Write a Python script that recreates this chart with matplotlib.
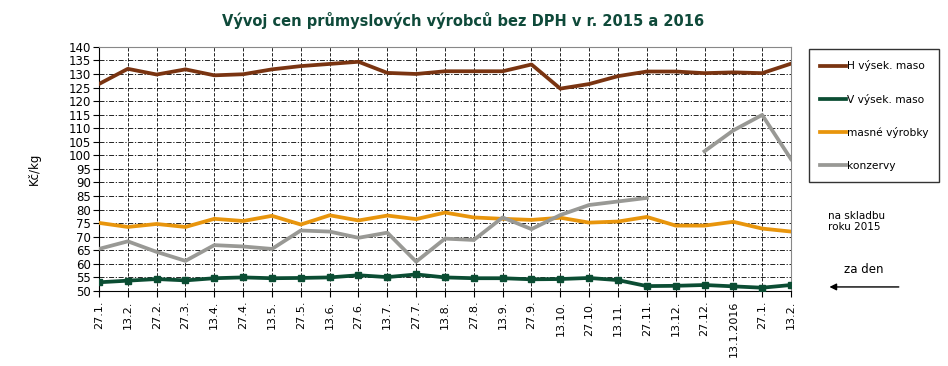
import numpy as np
import matplotlib
matplotlib.use('Agg')
import matplotlib.pyplot as plt

# category labels (dates of price survey)
dates = ['27.1.', '13.2.', '27.2.', '27.3.', '13.4.', '27.4.', '13.5.', '27.5.',
         '13.6.', '27.6.', '13.7.', '27.7.', '13.8.', '27.8.', '13.9.', '27.9.',
         '13.10.', '27.10.', '13.11.', '27.11.', '13.12.', '27.12.', '13.1.2016',
         '27.1.', '13.2.']

h_maso = [126.3, 131.9, 129.8, 131.7, 129.5, 129.9, 131.7, 132.9, 133.7, 134.5,
          130.4, 130.0, 131.0, 131.0, 131.0, 133.5, 124.6, 126.3, 129.2, 130.9,
          130.9, 130.3, 130.6, 130.3, 133.8]
v_maso = [53.2, 53.8, 54.4, 53.9, 54.7, 55.0, 54.7, 54.8, 55.0, 55.8,
          55.1, 56.1, 55.0, 54.7, 54.7, 54.3, 54.4, 54.8, 54.0, 51.8,
          51.9, 52.2, 51.7, 51.2, 52.2]
masne = [75.1, 73.6, 74.7, 73.6, 76.6, 75.8, 77.7, 74.5, 77.9, 76.0,
         77.8, 76.5, 78.9, 77.1, 76.6, 76.2, 77.0, 75.2, 75.6, 77.3,
         74.1, 74.1, 75.5, 73.0, 71.9]
konzervy = [65.5, 68.3, 64.4, 61.1, 66.9, 66.4, 65.5, 72.3, 71.9, 69.6,
            71.5, 60.8, 69.3, 68.8, 77.1, 72.8, 78.0, 81.7, 83.0, 84.3,
            None, 101.5, 109.2, 114.9, 98.6]

series_names = ['H výsek. maso', 'V výsek. maso', 'masné výrobky', 'konzervy']
colors = ['#7a3411', '#0b4d33', '#e8950c', '#999995']

x = np.arange(len(dates))
kon = np.array([np.nan if v is None else v for v in konzervy], dtype=float)

fig = plt.figure(figsize=(9.48, 3.66), dpi=100)
ax = fig.add_axes([0.1044, 0.205, 0.7300, 0.667])

ax.plot(x, h_maso, color=colors[0], lw=2.7, label=series_names[0], zorder=3)
ax.plot(x, v_maso, color=colors[1], lw=2.7, marker='s', ms=5, label=series_names[1], zorder=3)
ax.plot(x, masne, color=colors[2], lw=2.7, label=series_names[2], zorder=3)
ax.plot(x, kon, color=colors[3], lw=2.7, label=series_names[3], zorder=3)

ax.set_xlim(0, len(dates) - 1)
ax.set_ylim(50, 140)
ax.set_yticks(np.arange(50, 141, 5))
ax.set_xticks(x)
ax.set_xticklabels(dates, rotation=90, fontsize=8)
ax.tick_params(axis='y', labelsize=8.5, length=4, pad=2)
ax.tick_params(axis='x', length=4, pad=3)

ax.yaxis.grid(True, color='black', lw=0.6, linestyle=(0, (6, 2, 1.5, 2)))
ax.xaxis.grid(True, color='black', lw=0.6, linestyle=(0, (4, 2)))
ax.set_axisbelow(True)

for s in ['top', 'right']:
    ax.spines[s].set_color('#888888')
for s in ['left', 'bottom']:
    ax.spines[s].set_color('black')

ax.set_ylabel('Kč/kg', fontsize=8.5, labelpad=20)

fig.text(0.488, 0.945, 'Vývoj cen průmyslových výrobců bez DPH v r. 2015 a 2016',
         ha='center', va='center', fontsize=10.5, fontweight='bold', color='#0f4a3a')

leg = fig.legend(loc='upper left', bbox_to_anchor=(0.853, 0.866), fontsize=7.7,
                 frameon=True, fancybox=False, edgecolor='black', handlelength=2.4,
                 handletextpad=0.1, labelspacing=2.1, borderpad=1.05, borderaxespad=0)
leg.get_frame().set_linewidth(1.0)
for h in leg.legend_handles:
    h.set_marker('')

fig.text(0.873, 0.395, 'na skladbu\nroku 2015', fontsize=7.5, ha='left', va='center',
         linespacing=1.1)
fig.text(0.911, 0.263, 'za den', fontsize=8.5, ha='center', va='center')
fig.add_artist(matplotlib.patches.FancyArrowPatch(
    (0.951, 0.216), (0.872, 0.216), transform=fig.transFigure,
    arrowstyle='-|>', mutation_scale=10, color='black', lw=1))

fig.savefig('out.png', dpi=100)
